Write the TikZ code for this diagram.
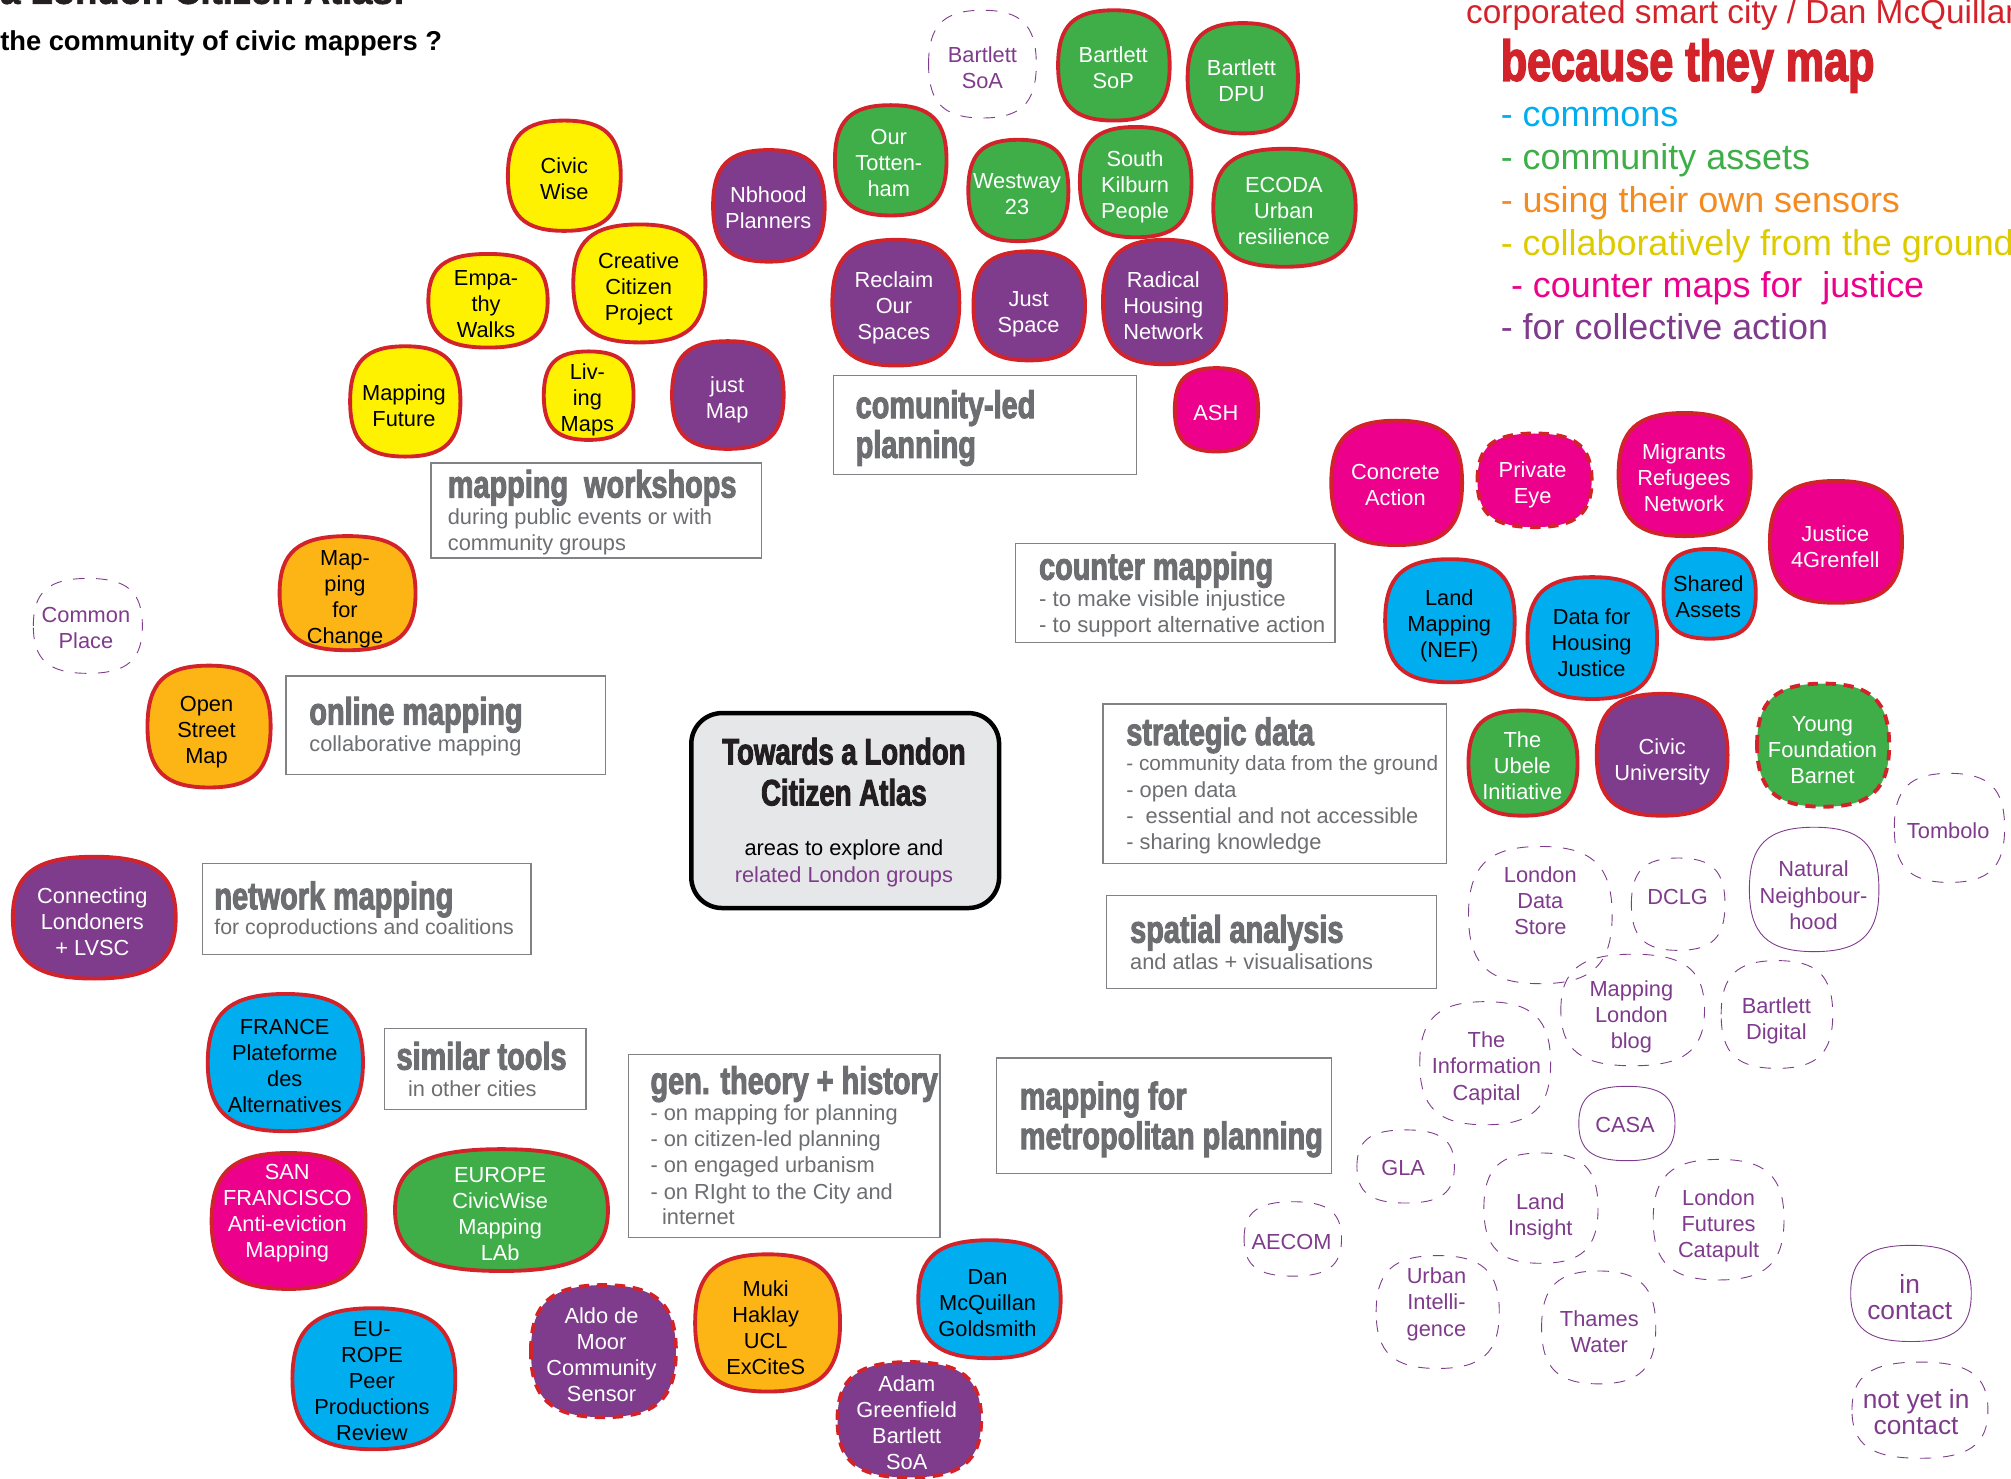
\documentclass[tikz,border=0pt]{standalone}
\usepackage{fontspec}
\setmainfont{Liberation Sans}
\newfontfamily\heavyf[FakeStretch=0.75,FakeBold=2.5]{Liberation Sans Bold}
\newfontfamily\blackf[FakeBold=2]{Liberation Sans Bold}
\definecolor{cyellow}{HTML}{FFF200}
\definecolor{corange}{HTML}{FDB515}
\definecolor{cgreen}{HTML}{3FAE49}
\definecolor{cpurple}{HTML}{7F3B8C}
\definecolor{cmag}{HTML}{EC008C}
\definecolor{ccyan}{HTML}{00AEEF}
\definecolor{cred}{HTML}{D2232A}
\definecolor{cgrey}{HTML}{6D6E71}
\definecolor{cbox}{HTML}{808285}
\definecolor{clight}{HTML}{E6E7E8}
\definecolor{cink}{HTML}{231F20}
\definecolor{cor}{HTML}{F58A1F}
\definecolor{cgold}{HTML}{DDCB00}
\tikzset{
  bubsolid/.style={draw=cred,line width=3pt},
  byellow/.style={fill=cyellow,bubsolid,text=black},
  borange/.style={fill=corange,bubsolid,text=black},
  bgreen/.style={fill=cgreen,bubsolid,text=white},
  bpurple/.style={fill=cpurple,bubsolid,text=white},
  bmag/.style={fill=cmag,bubsolid,text=white},
  bcyan/.style={fill=ccyan,bubsolid,text=black},
  rdash/.style={dash pattern=on 8pt off 6pt},
  bgreend/.style={bgreen,rdash},
  bpurpled/.style={bpurple,rdash},
  bmagd/.style={bmag,rdash},
  lsolid/.style={draw=cpurple,line width=.7pt,text=cpurple},
  ldash/.style={lsolid,dash pattern=on 9pt off 9pt},
  lbl/.style={inner sep=0pt,align=center,font=\fontsize{17}{20.3}\selectfont},
  boxn/.style={draw=cbox,line width=1pt,fill=white,inner sep=0pt,outer sep=0pt},
  head/.style={inner sep=0pt,anchor=base west,text=cgrey,font=\heavyf\fontsize{30}{30}\selectfont},
  sub/.style={inner sep=0pt,anchor=base west,text=cgrey,font=\fontsize{17}{20}\selectfont},
  lst/.style={inner sep=0pt,anchor=base west,font=\fontsize{28}{28}\selectfont},
}
\newcommand\bub[9]{%
  \pgfmathsetmacro\bcx{(#3+#4)/2}\pgfmathsetmacro\bcy{(#5+#6)/2}%
  \pgfmathsetmacro\bka{0.72*(#4-#3)/2}\pgfmathsetmacro\bkb{0.72*(#6-#5)/2}%
  \draw[#2] (#3,\bcy) .. controls (#3,\bcy-\bkb) and (\bcx-\bka,#5) .. (\bcx,#5)
    .. controls (\bcx+\bka,#5) and (#4,\bcy-\bkb) .. (#4,\bcy)
    .. controls (#4,\bcy+\bkb) and (\bcx+\bka,#6) .. (\bcx,#6)
    .. controls (\bcx-\bka,#6) and (#3,\bcy+\bkb) .. (#3,\bcy) -- cycle
    (#7,#8) node[lbl] (#1) {#9};}
\newcommand\boxr[5]{\pgfmathsetmacro\bw{#3-#2}\pgfmathsetmacro\bh{#5-#4}%
  \node[boxn,anchor=north west,minimum width=\bw pt,minimum height=\bh pt] (#1) at (#2,#4) {};}
\begin{document}
\begin{tikzpicture}[x=1pt,y=-1pt]
\useasboundingbox (0,0) rectangle (1568,1153);
\clip (0,0) rectangle (1568,1153);
% titles
\node[inner sep=0pt,anchor=base west,text=cink,font=\blackf\fontsize{28.4}{32}\selectfont] (t0) at (0,3) {a London Citizen Atlas:};
\node[inner sep=0pt,anchor=base west,font=\bfseries\fontsize{21.3}{22}\selectfont] (t1) at (0,39) {the community of civic mappers ?};
\node[inner sep=0pt,anchor=base west,text=cred,font=\fontsize{26}{26}\selectfont] (t2) at (1143,18) {corporated smart city / Dan McQuillan};
\node[inner sep=0pt,anchor=base west,text=cred,font=\heavyf\fontsize{44.8}{46}\selectfont] (t3) at (1170,63) {because they map};
\node[lst,text=ccyan] (l1) at (1170,99) {- commons};
\node[lst,text=cgreen] (l2) at (1170,132) {- community assets};
\node[lst,text=cor] (l3) at (1170,166) {- using their own sensors};
\node[lst,text=cgold] (l4) at (1170,199) {- collaboratively from the ground};
\node[lst,text=cmag] (l5) at (1178,232) {- counter maps for\ \ justice};
\node[lst,text=cpurple] (l6) at (1170,265) {- for collective action};
% bubbles
\bub{civicwise}{byellow}{396}{484}{94}{180}{440}{139}{Civic\\Wise}
\bub{creative}{byellow}{447}{550}{175}{267}{498}{225}{Creative\\Citizen\\Project}
\bub{empathy}{byellow}{334}{427}{198}{271}{379}{237}{Empa-\\thy\\Walks}
\bub{mapfuture}{byellow}{273}{359}{270}{356}{315}{316}{Mapping\\Future}
\bub{living}{byellow}{424}{494}{274}{343}{458}{312}{Liv-\\ing\\Maps}
\bub{justmap}{bpurple}{524}{611}{266}{350}{567}{312}{just\\Map}
\bub{nbhood}{bpurple}{556}{643}{117}{204}{599}{162}{Nbhood\\Planners}
\bub{tottenham}{bgreen}{651}{738}{82}{168}{693}{127}{Our\\Totten-\\ham}
\bub{westway}{bgreen}{755}{833}{109}{188}{793}{151}{Westway\\23}
\bub{sop}{bgreen}{825}{912}{8}{94}{868}{52.5}{Bartlett\\SoP}
\bub{dpu}{bgreen}{926}{1012}{18}{104}{968}{63}{Bartlett\\DPU}
\bub{soa}{ldash}{724}{808}{8}{92}{766}{52.5}{Bartlett\\SoA}
\bub{kilburn}{bgreen}{842}{929}{99}{185}{885}{146}{South\\Kilburn\\People}
\bub{ecoda}{bgreen}{946}{1057}{116}{208}{1001}{164.5}{ECODA\\Urban\\resilience}
\bub{reclaim}{bpurple}{649}{748}{187}{285}{697}{240}{Reclaim\\Our\\Spaces}
\bub{justspace}{bpurple}{759}{846}{196}{281}{802}{245}{Just\\Space}
\bub{radical}{bpurple}{860}{956}{187}{284}{907}{238}{Radical\\Housing\\Network}
\bub{ash}{bmag}{916}{981}{287}{352}{948}{322}{ASH}
\bub{concrete}{bmag}{1038}{1140}{328}{425}{1088}{378.5}{Concrete\\Action}
\bub{private}{bmagd}{1152}{1241}{338}{411}{1195}{378}{Private\\Eye}
\bub{migrants}{bmag}{1262}{1365}{322}{418}{1313}{372.5}{Migrants\\Refugees\\Network}
\bub{grenfell}{bmag}{1380}{1483}{375}{470}{1431}{426}{Justice\\4Grenfell}
\bub{landmap}{bcyan}{1080}{1181}{436}{532}{1130}{488}{Land\\Mapping\\(NEF)}
\bub{datahousing}{bcyan}{1191}{1292}{450}{545}{1241}{501}{Data for\\Housing\\Justice}
\bub{shared}{bcyan}{1297}{1369}{428}{498}{1332}{465}{Shared\\Assets}
\bub{ubele}{bgreen}{1145}{1230}{554}{636}{1187}{597}{The\\Ubele\\Initiative}
\bub{civicuni}{bpurple}{1245}{1347}{541}{636}{1296}{594}{Civic\\University}
\bub{young}{bgreend}{1370}{1473}{533}{629}{1421}{584.5}{Young\\Foundation\\Barnet}
\bub{tombolo}{ldash}{1477}{1563}{603}{688}{1519}{648}{Tombolo}
\bub{datastore}{ldash}{1145}{1257}{660}{767}{1201}{702}{London\\Data\\Store}
\bub{dclg}{ldash}{1272}{1345}{669}{741}{1308}{699}{DCLG}
\bub{natural}{lsolid}{1364}{1465}{645}{742}{1414}{698}{Natural\\Neighbour-\\hood}
\bub{mlblog}{ldash}{1217}{1329}{744}{831}{1272}{793}{Mapping\\London\\blog}
\bub{bdigital}{ldash}{1342}{1429}{749}{833}{1385}{796}{Bartlett\\Digital}
\bub{infocap}{ldash}{1107}{1209}{781}{877}{1159}{833}{The\\Information\\Capital}
\bub{casa}{lsolid}{1231}{1306}{847}{905}{1267}{877.5}{CASA}
\bub{gla}{ldash}{1058}{1134}{881}{938}{1094}{911}{GLA}
\bub{aecom}{ldash}{970}{1046}{937}{995}{1007}{968}{AECOM}
\bub{landinsight}{ldash}{1157}{1246}{899}{985}{1201}{949}{Land\\Insight}
\bub{catapult}{ldash}{1289}{1391}{904}{998}{1340}{956}{London\\Futures\\Catapult}
\bub{urbanint}{ldash}{1073}{1169}{979}{1067}{1120}{1017}{Urban\\Intelli-\\gence}
\bub{thames}{ldash}{1202}{1291}{991}{1079}{1247}{1038}{Thames\\Water}
\bub{incontact}{lsolid}{1443}{1537}{971}{1046}{1489}{1011}{\fontsize{20.5}{23}\selectfont in\\\fontsize{20.5}{23}\selectfont contact}
\bub{notyet}{ldash}{1444}{1550}{1062}{1137}{1494}{1101}{\fontsize{20.5}{17}\selectfont not yet in\\\fontsize{20.5}{17}\selectfont contact}
\bub{mapchange}{borange}{218}{324}{418}{507}{269}{467}{Map-\\ping\\for\\Change}
\bub{osm}{borange}{115}{211}{519}{614}{161}{571}{Open\\Street\\Map}
\bub{commonplace}{ldash}{26}{111}{451}{525}{67}{490}{Common\\Place}
\bub{connecting}{bpurple}{10}{137}{668}{763}{72}{718.5}{Connecting\\Londoners\\+ LVSC}
\bub{france}{bcyan}{162}{283}{775}{882}{222}{831.5}{FRANCE\\Plateforme\\des\\Alternatives}
\bub{sanfran}{bmag}{165}{285}{899}{1005}{224}{946}{SAN\\FRANCISCO\\Anti-eviction\\Mapping}
\bub{europe}{bgreen}{308}{474}{896}{991}{390}{946.5}{EUROPE\\CivicWise\\Mapping\\LAb}
\bub{eurocyan}{bcyan}{228}{355}{1020}{1130}{290}{1077}{EU-\\ROPE\\Peer\\Productions\\Review}
\bub{aldo}{bpurpled}{414}{527}{1002}{1105}{469}{1056}{Aldo de\\Moor\\Community\\Sensor}
\bub{muki}{borange}{542}{655}{978}{1085}{597}{1035}{Muki\\Haklay\\UCL\\ExCiteS}
\bub{dan}{bcyan}{716}{827}{967}{1059}{770}{1016}{Dan\\McQuillan\\Goldsmith}
\bub{adam}{bpurpled}{653}{765}{1062}{1152}{707}{1109}{Adam\\Greenfield\\Bartlett\\SoA}
% boxes
\boxr{bxled}{650}{886}{293}{370}
\node[head] (h1a) at (667,326) {comunity-led};
\node[head] (h1b) at (667,357) {planning};
\boxr{bxwork}{336}{594}{361}{435}
\node[head] (h2) at (349,388) {mapping\ \ workshops};
\node[sub] (s2a) at (349,409) {during public events or with};
\node[sub] (s2b) at (349,429) {community groups};
\boxr{bxonline}{223}{472}{527}{604}
\node[head] (h3) at (241,565) {online mapping};
\node[sub] (s3) at (241,586) {collaborative mapping};
\boxr{bxnet}{158}{414}{673}{744}
\node[head] (h4) at (167,709) {network mapping};
\node[sub,font=\fontsize{16.6}{20}\selectfont] (s4) at (167,729) {for coproductions and coalitions};
\boxr{bxsim}{300}{457}{802}{865}
\node[head] (h5) at (309,834) {similar tools};
\node[sub] (s5) at (318,855) {in other cities};
\boxr{bxgen}{490}{733}{822}{965}
\node[head] (h6) at (507,853) {gen. theory + history};
\node[sub] (s6a) at (507,874) {- on mapping for planning};
\node[sub] (s6b) at (507,894) {- on citizen-led planning};
\node[sub] (s6c) at (507,914) {- on engaged urbanism};
\node[sub] (s6d) at (507,935) {- on RIght to the City and};
\node[sub] (s6e) at (516,955) {internet};
\boxr{bxmetro}{777}{1038}{825}{915}
\node[head] (h7a) at (795,865) {mapping for};
\node[head] (h7b) at (795,896) {metropolitan planning};
\boxr{bxcounter}{792}{1041}{424}{501}
\node[head] (h8) at (810,452) {counter mapping};
\node[sub,font=\fontsize{17.3}{20}\selectfont] (s8a) at (810,473) {- to make visible injustice};
\node[sub,font=\fontsize{17.3}{20}\selectfont] (s8b) at (810,493) {- to support alternative action};
\boxr{bxstrat}{860}{1128}{549}{673}
\node[head] (h9) at (878,581) {strategic data};
\node[sub,font=\fontsize{16.2}{20}\selectfont] (s9a) at (878,601) {- community data from the ground};
\node[sub] (s9b) at (878,622) {- open data};
\node[sub] (s9c) at (878,642) {-\ \ essential and not accessible};
\node[sub] (s9d) at (878,662) {- sharing knowledge};
\boxr{bxspatial}{863}{1120}{698}{771}
\node[head] (h10) at (881,735) {spatial analysis};
\node[sub] (s10) at (881,756) {and atlas + visualisations};
% centre
\pgfmathsetmacro\cw{779-539}\pgfmathsetmacro\ch{708-556}
\node[draw=black,line width=3.5pt,fill=clight,rounded corners=24pt,inner sep=0pt,outer sep=0pt,anchor=north west,minimum width=\cw pt,minimum height=\ch pt] (centre) at (539,556) {};
\node[inner sep=0pt,anchor=base,text=cink,font=\heavyf\fontsize{28.7}{31}\selectfont] (c1) at (658,596) {Towards a London};
\node[inner sep=0pt,anchor=base,text=cink,font=\heavyf\fontsize{28.7}{31}\selectfont] (c2) at (658,628) {Citizen Atlas};
\node[inner sep=0pt,anchor=base,font=\fontsize{17}{20}\selectfont] (c3) at (658,667) {areas to explore and};
\node[inner sep=0pt,anchor=base,text=cpurple,font=\fontsize{17}{20}\selectfont] (c4) at (658,688) {related London groups};
\end{tikzpicture}
\end{document}
